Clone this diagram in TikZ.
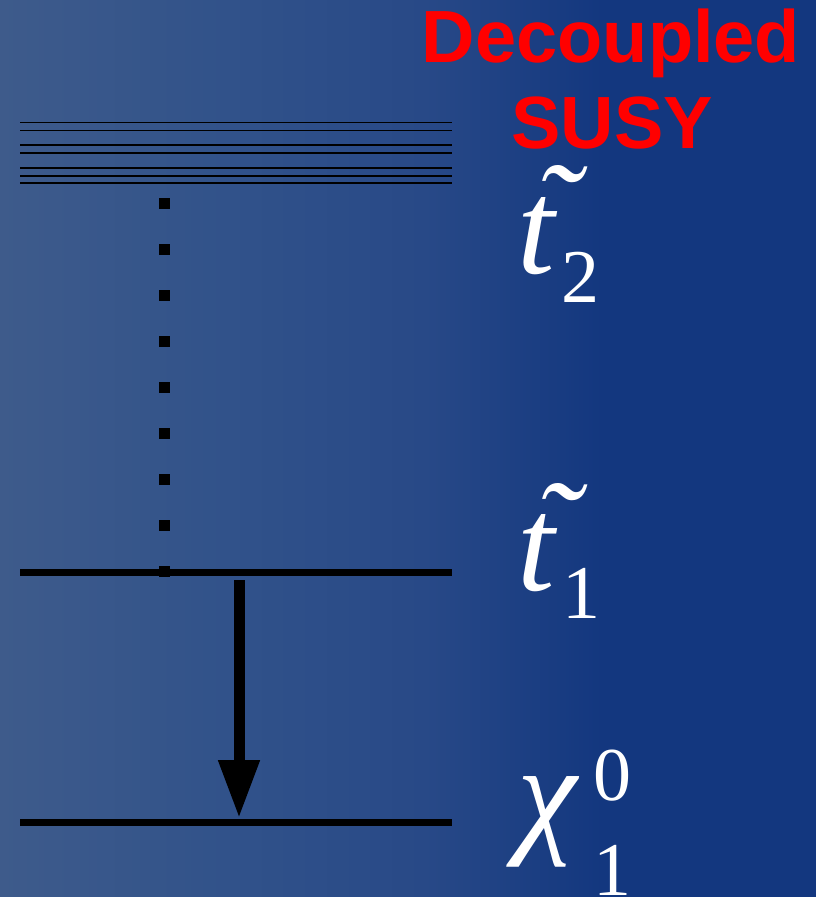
\documentclass[tikz,border=0pt]{standalone}
\usepackage{fontspec}
\setmainfont{Liberation Serif}
\newfontfamily\susyfont{Liberation Sans}
\usepackage{tikz}
\usetikzlibrary{arrows.meta,positioning}
\definecolor{bgleft}{HTML}{3E5B8B}
\definecolor{bgmidA}{HTML}{31528A}
\definecolor{bgmidB}{HTML}{284987}
\definecolor{bgright}{HTML}{13377F}
\definecolor{susyred}{HTML}{FF0000}
\pgfdeclarehorizontalshading{bgshade}{100bp}{color(0bp)=(bgleft); color(25bp)=(bgleft); color(39bp)=(bgmidA); color(51bp)=(bgmidB); color(62bp)=(bgright); color(100bp)=(bgright)}
\tikzset{level/.style={draw=black,line width=7pt},thinlevel/.style={draw=black,line width=1.3pt},decay/.style={-{Triangle[length=58pt,width=39pt]},draw=black,line width=11pt},mass/.style={text=white,inner sep=0pt,font=\itshape\fontsize{135}{135}\selectfont},idx/.style={text=white,inner sep=0pt,font=\fontsize{76}{76}\selectfont}}

\begin{document}
\begin{tikzpicture}[x=1pt,y=-1pt,title/.style={text=susyred,inner sep=0pt,anchor=base,font=\susyfont\bfseries\fontsize{74}{74}\selectfont}]
\useasboundingbox (0,0) rectangle (816,897);
\fill[shading=bgshade] (0,0) rectangle (816,897);
\node[title] (dec) at (611,62) {Decoupled};
\node[title] (susy) at (612,148) {SUSY};
\foreach \y in {122.7,130.3,145,153,168,176,183}{\draw[thinlevel] (20,\y)--(452,\y);}
\foreach \y in {203,249,...,571}{\fill (158.5,\y-5.5) rectangle +(11,11);}
\coordinate (stopL) at (20,572);
\coordinate (stopR) at (452,572);
\coordinate (chiL) at (20,822);
\coordinate (chiR) at (452,822);
\draw[level] (stopL)--(stopR);
\draw[level] (chiL)--(chiR);
\coordinate (arrtop) at (239,580);
\coordinate (arrtip) at (239,818);
\draw[decay] (arrtop)--(arrtip);
\node[mass,anchor=base] (t2) at (536,273) {t};
\node[mass,anchor=north] (t2tilde) at (557,165) {˜};
\node[idx,anchor=base] (t2idx) at (580,302) {2};
\node[mass,anchor=base] (t1) at (536,590) {t};
\node[mass,anchor=north] (t1tilde) at (557,483) {˜};
\node[idx,anchor=base] (t1idx) at (581.5,618) {1};
\node[mass,anchor=base] (chi) at (547,838) {χ};
\node[idx,anchor=base] (chisup) at (612,800) {0};
\node[idx,anchor=base] (chisub) at (612,895) {1};
\end{tikzpicture}
\end{document}
